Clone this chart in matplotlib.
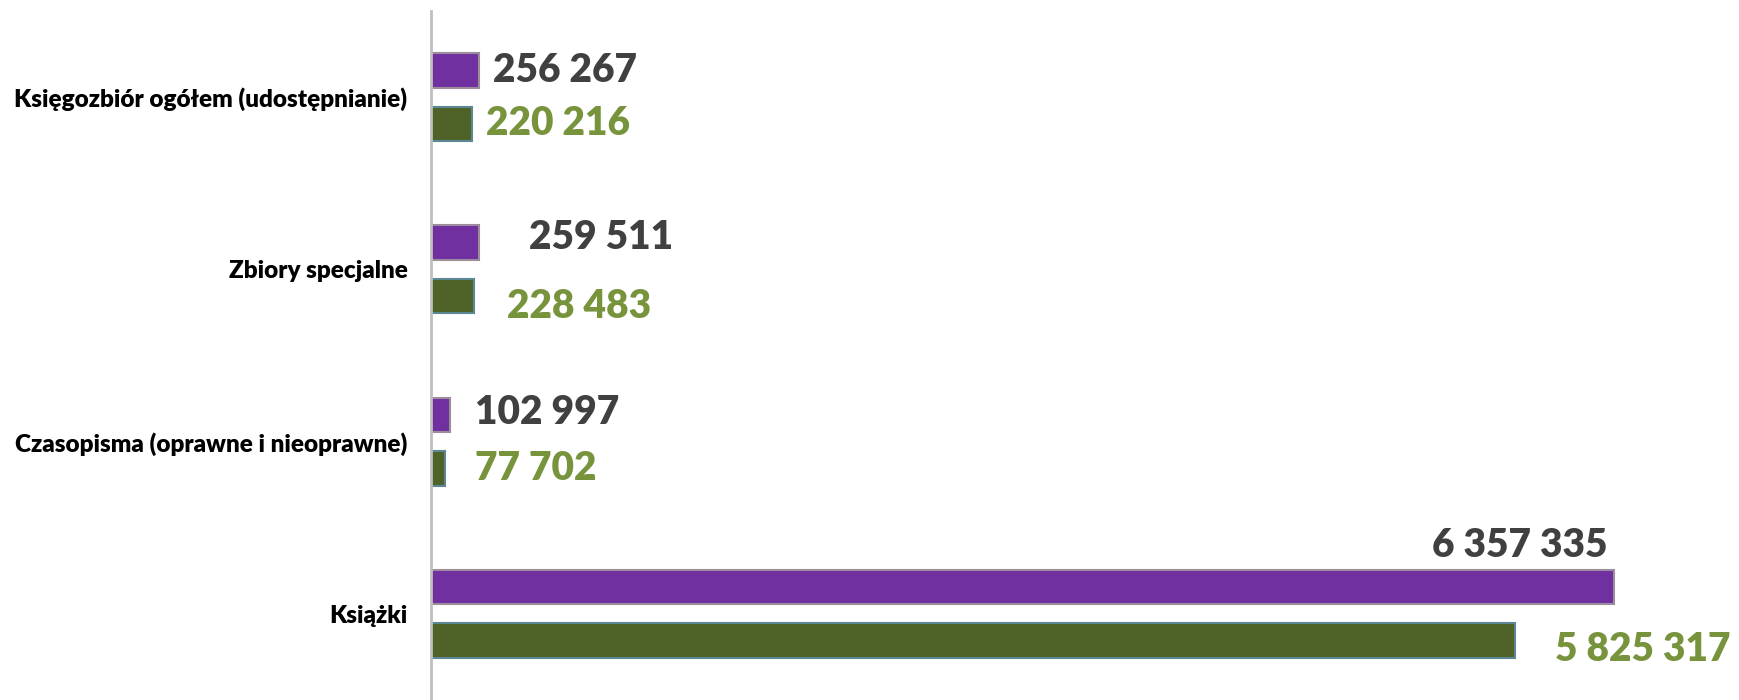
import numpy as np
import matplotlib.pyplot as plt

# Dane
categories = ['Księgozbiór ogółem (udostępnianie)', 'Zbiory specjalne',
              'Czasopisma (oprawne i nieoprawne)', 'Książki']
values_a = [256267, 259511, 102997, 6357335]   # seria fioletowa
values_b = [220216, 228483, 77702, 5825317]    # seria zielona

plt.rcParams['font.family'] = ['Lato', 'DejaVu Sans']

fig = plt.figure(figsize=(17.39, 7.0), dpi=100)
ax = fig.add_axes([431 / 1739, 0.0, 1 - 431 / 1739, 1 - 11 / 700])

y = np.arange(len(categories))
off = 0.155
h = 0.2

bars_a = ax.barh(y - off, values_a, height=h, color='#7030A0',
                 edgecolor='#9C8C9C', linewidth=1.5)
bars_b = ax.barh(y + off, values_b, height=h, color='#4F6228',
                 edgecolor='#5E8796', linewidth=1.5)

ax.set_xlim(0, 7.03e6)
ax.set_ylim(3.5, -0.5)

ax.set_yticks(y)
ax.set_yticklabels(categories, fontsize=17.5, fontweight='heavy', color='black')
ax.tick_params(axis='y', length=0, pad=17)
ax.set_xticks([])

for s in ['top', 'right', 'bottom']:
    ax.spines[s].set_visible(False)
ax.spines['left'].set_color('#BFBFBF')
ax.spines['left'].set_linewidth(2)

# Etykiety wartości (przesunięcia w pikselach)
offs_a = [(14, 0, 'left'), (50, 5, 'left'), (25, 2, 'left'), (-6, 42, 'right')]
offs_b = [(14, 0, 'left'), (33, -10, 'left'), (30, 0, 'left'), (40, -9, 'left')]


def fmt(v):
    return f'{v:,}'.replace(',', ' ')


for i in range(len(categories)):
    dx, dy, ha = offs_a[i]
    ax.annotate(fmt(values_a[i]), (values_a[i], y[i] - off),
                xytext=(dx, dy), textcoords='offset pixels',
                ha=ha, va='center', fontsize=28, fontweight='heavy', color='#404040')
    dx, dy, ha = offs_b[i]
    ax.annotate(fmt(values_b[i]), (values_b[i], y[i] + off),
                xytext=(dx, dy), textcoords='offset pixels',
                ha=ha, va='center', fontsize=28, fontweight='heavy', color='#77933C')

fig.savefig('out.png', dpi=100)
